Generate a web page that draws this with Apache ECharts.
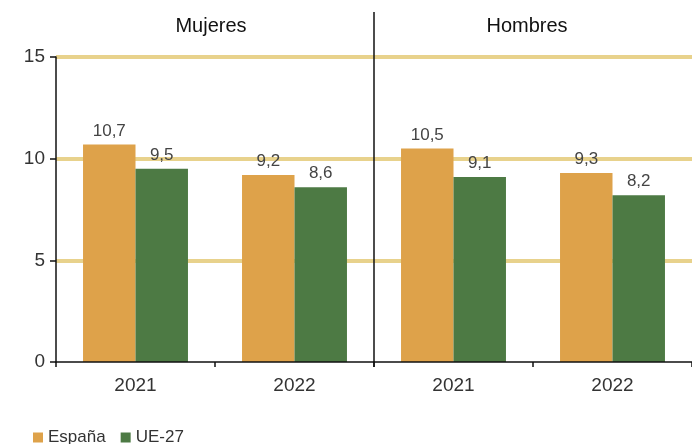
<!DOCTYPE html>
<html>
<head>
<meta charset="utf-8">
<script src="https://cdn.jsdelivr.net/npm/echarts@6/dist/echarts.min.js"></script>
<style>
  html, body { margin: 0; padding: 0; background: #fff; }
  #chart { width: 692px; height: 444px; }
</style>
</head>
<body>
<div id="chart"></div>
<script>
var years = ["2021", "2022"];
var panels = ["Mujeres", "Hombres"];
var espanaMujeres = [10.7, 9.2];
var ueMujeres = [9.5, 8.6];
var espanaHombres = [10.5, 9.3];
var ueHombres = [9.1, 8.2];
var yTicks = [0, 5, 10, 15];

var FONT = "Liberation Sans, Arial, sans-serif";
var ORANGE = "#DEA24A";
var GREEN = "#4D7A44";

function fmt(p) {
    return String(p.value).replace(".", ",");
}

function barSeries(name, data, color, idx) {
    return {
        name: name,
        type: "bar",
        xAxisIndex: idx,
        yAxisIndex: idx,
        data: data,
        barGap: "0%",
        barCategoryGap: "34%",
        itemStyle: { color: color },
        label: {
            show: true,
            position: "top",
            distance: 5,
            formatter: fmt,
            fontFamily: FONT,
            fontSize: 17,
            color: "#444"
        }
    };
}

function xAxis(idx) {
    return {
        type: "category",
        gridIndex: idx,
        data: years,
        z: 10,
        axisLine: { lineStyle: { color: "#111", width: 1.5 } },
        axisTick: {
            show: true, length: 5, lineStyle: { color: "#111", width: 1.5 },
            interval: function (i) { return idx === 0 || i < years.length; }
        },
        axisLabel: { margin: 14, fontFamily: FONT, fontSize: 19, color: "#333" }
    };
}

function yAxis(idx) {
    return {
        type: "value",
        gridIndex: idx,
        min: yTicks[0],
        max: yTicks[yTicks.length - 1],
        interval: 5,
        axisLine: { show: idx === 0, lineStyle: { color: "#111", width: 1.5 } },
        axisTick: { show: idx === 0, length: 6, lineStyle: { color: "#111", width: 1.5 } },
        axisLabel: { show: idx === 0, margin: 11, fontFamily: FONT, fontSize: 19, color: "#333" },
        splitLine: { show: true, showMinLine: false, lineStyle: { color: "#E8D28C", width: 4 } }
    };
}

var chart = echarts.init(document.getElementById("chart"));
chart.setOption({
    animation: false,
    title: [
        { text: panels[0], left: 206, top: 11, textAlign: "center",
          textStyle: { fontFamily: FONT, fontSize: 20, fontWeight: "normal", color: "#111" } },
        { text: panels[1], left: 522, top: 11, textAlign: "center",
          textStyle: { fontFamily: FONT, fontSize: 20, fontWeight: "normal", color: "#111" } }
    ],
    legend: {
        data: ["España", "UE-27"],
        left: 28,
        top: 424,
        itemWidth: 10,
        itemHeight: 10,
        itemGap: 15,
        icon: "rect",
        textStyle: { fontFamily: FONT, fontSize: 17, color: "#333" }
    },
    grid: [
        { left: 56, top: 57, width: 318, height: 305 },
        { left: 374, top: 57, width: 318, height: 305 }
    ],
    xAxis: [xAxis(0), xAxis(1)],
    yAxis: [yAxis(0), yAxis(1)],
    series: [
        barSeries("España", espanaMujeres, ORANGE, 0),
        barSeries("UE-27", ueMujeres, GREEN, 0),
        barSeries("España", espanaHombres, ORANGE, 1),
        barSeries("UE-27", ueHombres, GREEN, 1)
    ],
    graphic: [
        { type: "line", z: 100, shape: { x1: 374, y1: 12, x2: 374, y2: 367 },
          style: { stroke: "#111", lineWidth: 1.5 } }
    ]
});
</script>
</body>
</html>
